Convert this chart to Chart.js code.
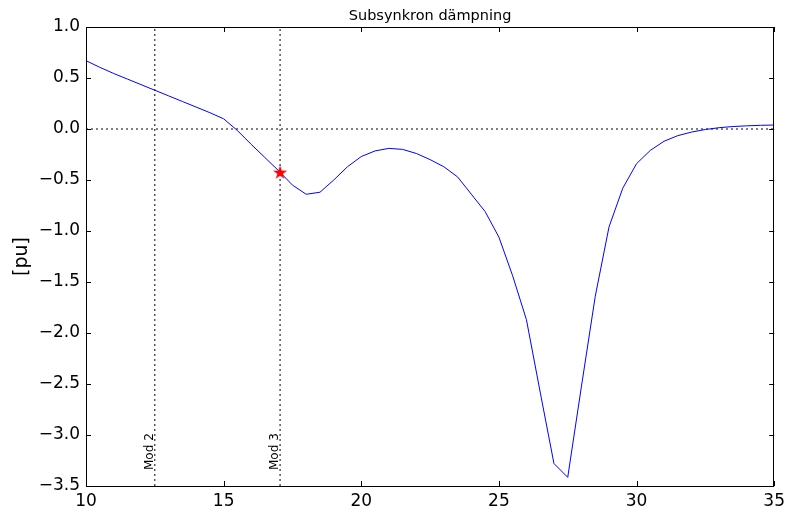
<!DOCTYPE html>
<html>
<head>
<meta charset="utf-8">
<script src="https://cdn.jsdelivr.net/npm/chart.js@4/dist/chart.umd.min.js"></script>
<style>
  html, body { margin: 0; padding: 0; background: #ffffff; }
  #wrap { width: 790px; height: 512px; }
</style>
</head>
<body>
<div id="wrap"><canvas id="c" width="790" height="512"></canvas></div>
<script>
// Frequency axis [Hz] and subsynchronous damping [pu]
const freq = [
  10, 10.5, 11, 11.5, 12, 12.5, 13, 13.5, 14, 14.5,
  15, 15.5, 16, 16.5, 17, 17.5, 18, 18.5, 19, 19.5,
  20, 20.5, 21, 21.5, 22, 22.5, 23, 23.5, 24, 24.5,
  25, 25.5, 26, 26.5, 27, 27.5, 28, 28.5, 29, 29.5,
  30, 30.5, 31, 31.5, 32, 32.5, 33, 33.5, 34, 34.5, 35
];
const damping = [
  0.67, 0.605, 0.545, 0.49, 0.435, 0.38, 0.325, 0.27, 0.215, 0.16,
  0.10, -0.015, -0.15, -0.28, -0.41, -0.55, -0.64, -0.62, -0.50, -0.37,
  -0.27, -0.215, -0.19, -0.20, -0.24, -0.30, -0.37, -0.47, -0.64, -0.81,
  -1.06, -1.44, -1.87, -2.58, -3.28, -3.415, -2.52, -1.64, -0.96, -0.58,
  -0.34, -0.21, -0.12, -0.065, -0.03, -0.005, 0.013, 0.024, 0.031, 0.036, 0.039
];

// Torsional mode frequencies marked with vertical lines
const modeLabels = ['Mod 2', 'Mod 3'];
const modeFreqs = [12.5, 17.05];

// Operating point marked with a star
const pointFreq = [17.05];
const pointDamping = [-0.43];

const xTicks = [10, 15, 20, 25, 30, 35];
const yTicks = [-3.5, -3.0, -2.5, -2.0, -1.5, -1.0, -0.5, 0.0, 0.5, 1.0];

const titleText = 'Subsynkron dämpning';
const yAxisLabel = '[pu]';

const X_MIN = 10, X_MAX = 35, Y_MIN = -3.5, Y_MAX = 1.0;
const FONT = '"DejaVu Sans", "Liberation Sans", sans-serif';

// Filled five-pointed star marker
function makeStar(size, color) {
  const cv = document.createElement('canvas');
  cv.width = size; cv.height = size;
  const g = cv.getContext('2d');
  const c = size / 2, ro = size / 2 - 0.5, ri = ro * 0.382;
  g.beginPath();
  for (let i = 0; i < 10; i++) {
    const r = i % 2 === 0 ? ro : ri;
    const a = -Math.PI / 2 + i * Math.PI / 5;
    const px = c + r * Math.cos(a), py = c + r * Math.sin(a);
    if (i === 0) g.moveTo(px, py); else g.lineTo(px, py);
  }
  g.closePath();
  g.fillStyle = color;
  g.fill();
  return cv;
}
const starMarker = makeStar(16, '#ff0000');

const dotted = [2, 3];

const datasets = [
  {
    label: 'operating point',
    data: pointFreq.map((f, i) => ({ x: f, y: pointDamping[i] })),
    showLine: false,
    pointStyle: starMarker,
    pointRadius: 8,
    order: 0
  },
  {
    label: 'damping',
    data: freq.map((f, i) => ({ x: f, y: damping[i] })),
    borderColor: '#0000ff',
    borderWidth: 1,
    pointRadius: 0,
    tension: 0,
    fill: false,
    order: 1
  },
  {
    label: 'zero',
    data: [{ x: X_MIN, y: 0 }, { x: X_MAX, y: 0 }],
    borderColor: '#000000',
    borderWidth: 1,
    borderDash: dotted,
    pointRadius: 0,
    order: 2
  }
];
modeFreqs.forEach((f, i) => {
  datasets.push({
    label: modeLabels[i],
    data: [{ x: f, y: Y_MIN }, { x: f, y: Y_MAX }],
    borderColor: '#000000',
    borderWidth: 1,
    borderDash: dotted,
    pointRadius: 0,
    order: 2
  });
});

// Frame, inward tick marks and text annotations
const decorations = {
  id: 'decorations',
  afterDraw(chart) {
    const { ctx, chartArea: a, scales } = chart;
    const xs = scales.x, ys = scales.y;
    ctx.save();
    ctx.strokeStyle = '#000000';
    ctx.lineWidth = 1;
    ctx.strokeRect(Math.round(a.left) + 0.5, Math.round(a.top) + 0.5,
                   Math.round(a.right - a.left) - 1, Math.round(a.bottom - a.top));
    const tl = 5;
    ctx.beginPath();
    xTicks.forEach(v => {
      const px = Math.round(xs.getPixelForValue(v)) + 0.5;
      ctx.moveTo(px, a.bottom); ctx.lineTo(px, a.bottom - tl);
      ctx.moveTo(px, a.top); ctx.lineTo(px, a.top + tl);
    });
    yTicks.forEach(v => {
      const py = Math.round(ys.getPixelForValue(v)) + 0.5;
      ctx.moveTo(a.left, py); ctx.lineTo(a.left + tl, py);
      ctx.moveTo(a.right, py); ctx.lineTo(a.right - tl, py);
    });
    ctx.stroke();

    ctx.fillStyle = '#000000';
    // title
    ctx.font = '14.5px ' + FONT;
    ctx.textAlign = 'center';
    ctx.textBaseline = 'alphabetic';
    ctx.fillText(titleText, (a.left + a.right) / 2, 20);

    // y-axis label
    ctx.save();
    ctx.translate(22, (a.top + a.bottom) / 2);
    ctx.rotate(-Math.PI / 2);
    ctx.font = '19px ' + FONT;
    ctx.textAlign = 'center';
    ctx.textBaseline = 'middle';
    ctx.fillText(yAxisLabel, 0, 0);
    ctx.restore();

    // mode labels along the vertical lines
    modeFreqs.forEach((f, i) => {
      const px = xs.getPixelForValue(f);
      ctx.save();
      ctx.translate(px - 2, a.bottom - 16);
      ctx.rotate(-Math.PI / 2);
      ctx.font = '12px ' + FONT;
      ctx.textAlign = 'left';
      ctx.textBaseline = 'alphabetic';
      ctx.fillText(modeLabels[i], 0, 0);
      ctx.restore();
    });
    ctx.restore();
  }
};

const fmt = v => v.toFixed(1).replace('-', '\u2212');
const tickFont = { family: FONT, size: 17 };

new Chart(document.getElementById('c'), {
  type: 'line',
  data: { datasets },
  options: {
    responsive: false,
    animation: false,
    events: [],
    layout: { padding: { left: 0, top: 27, right: 13, bottom: 0 } },
    plugins: { legend: { display: false }, tooltip: { enabled: false }, title: { display: false } },
    scales: {
      x: {
        type: 'linear',
        min: X_MIN, max: X_MAX,
        afterBuildTicks: s => { s.ticks = xTicks.map(v => ({ value: v })); },
        afterFit: s => { s.height = 26; },
        grid: { display: false, drawTicks: false },
        border: { display: false },
        ticks: { font: tickFont, color: '#000000', padding: 5, maxRotation: 0, autoSkip: false,
                 callback: v => String(v) }
      },
      y: {
        type: 'linear',
        min: Y_MIN, max: Y_MAX,
        afterBuildTicks: s => { s.ticks = yTicks.map(v => ({ value: v })); },
        afterFit: s => { s.width = 86; },
        grid: { display: false, drawTicks: false },
        border: { display: false },
        ticks: { font: tickFont, color: '#000000', padding: 6, autoSkip: false,
                 callback: v => fmt(v) }
      }
    }
  },
  plugins: [decorations]
});
</script>
</body>
</html>
